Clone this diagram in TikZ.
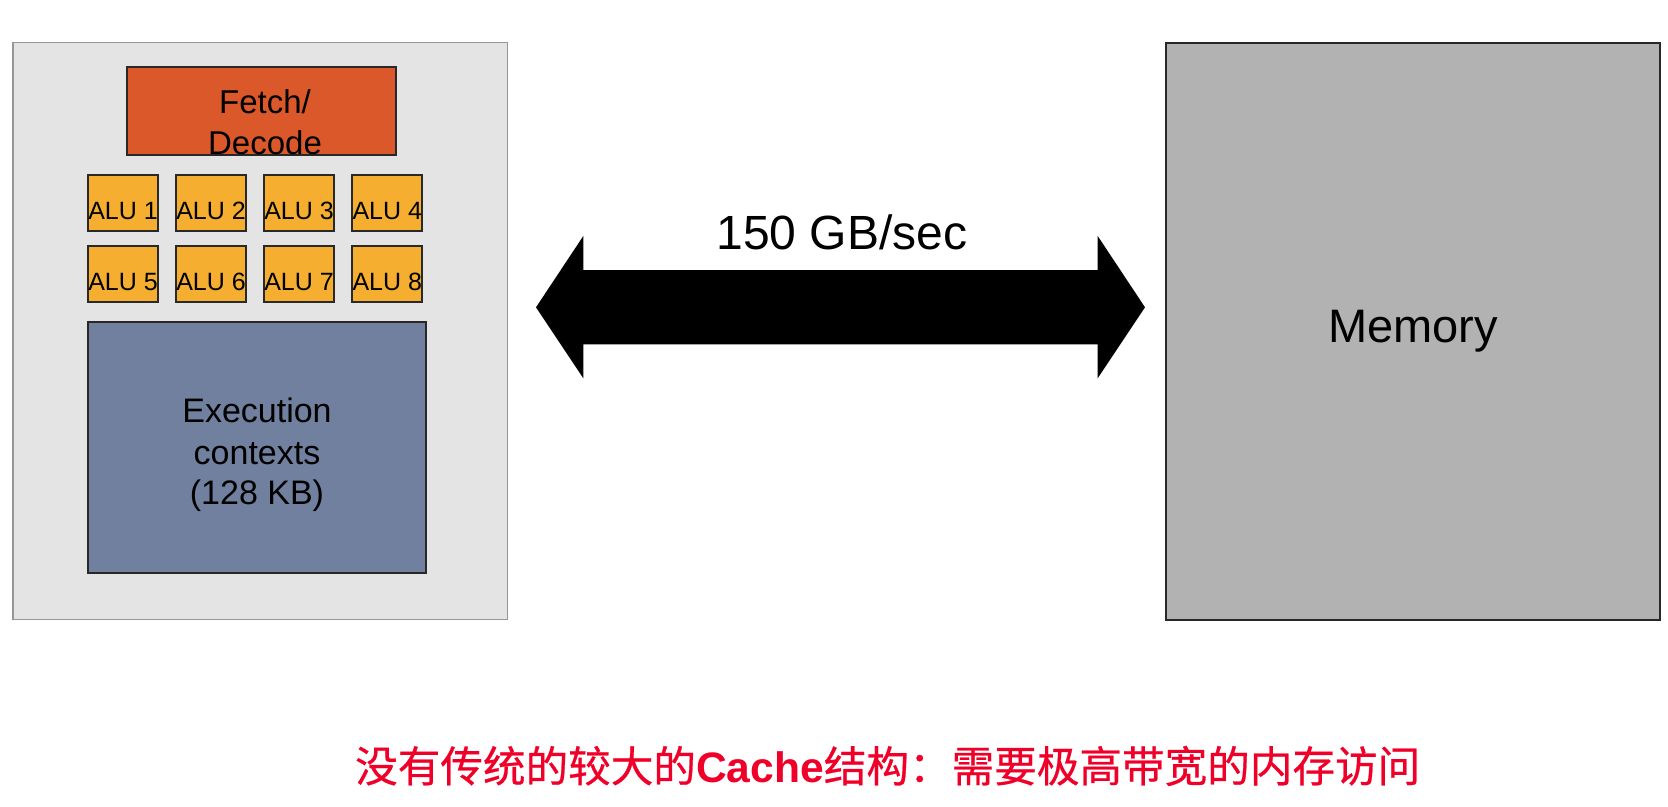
\documentclass[tikz,border=0pt]{standalone}
\usepackage{fontspec}
\setmainfont{Liberation Sans}
\newfontfamily\cjk[FakeBold=0.6]{Noto Sans CJK SC}
\definecolor{chipbg}{RGB}{228,228,228}
\definecolor{chipline}{RGB}{150,150,150}
\definecolor{fetchc}{RGB}{218,88,42}
\definecolor{aluc}{RGB}{245,174,48}
\definecolor{execc}{RGB}{112,128,158}
\definecolor{memc}{RGB}{178,178,178}
\definecolor{boxline}{RGB}{40,40,40}
\definecolor{notec}{RGB}{240,0,40}
\begin{document}
\begin{tikzpicture}[x=1pt,y=-1pt,
  box/.style={draw=boxline,line width=2pt,inner sep=0pt,outer sep=0pt},
  alubox/.style={box,fill=aluc,minimum width=70pt,minimum height=56pt},
  lbl/.style={anchor=base,inner sep=0pt,outer sep=0pt},
  alutxt/.style={lbl,font=\fontsize{25}{25}\selectfont},
  midtxt/.style={lbl,font=\fontsize{34}{34}\selectfont},
  bigtxt/.style={lbl,font=\fontsize{48}{48}\selectfont},
]
\useasboundingbox (0,0) rectangle (1668,806);

% processor core
\node[box,draw=chipline,line width=1.5pt,fill=chipbg,minimum width=494.7pt,minimum height=577pt] (chip) at (260.2,331) {};
\node[box,fill=fetchc,minimum width=269pt,minimum height=87.5pt] (fetch) at (261.5,111.2) {};
\node[midtxt,font=\fontsize{33}{33}\selectfont] (fetchA) at (265,113.3) {Fetch/};
\node[midtxt,font=\fontsize{33}{33}\selectfont] (fetchB) at (265,154) {Decode};

\foreach \i/\x/\y/\b in {1/123/203/219.3, 2/211/203/219.3, 3/299/203/219.3, 4/387.3/203/219.3,
                         5/123/274/290, 6/211/274/290, 7/299/274/290, 8/387.3/274/290}{
  \node[alubox] (alu\i) at (\x,\y) {};
  \node[alutxt] (alut\i) at (\x,\b) {ALU \i};
}

\node[box,fill=execc,minimum width=338pt,minimum height=251pt] (exec) at (257,447.2) {};
\node[midtxt] (execA) at (257,422.3) {Execution};
\node[midtxt] (execB) at (257,464) {contexts};
\node[midtxt] (execC) at (257,504) {(128 KB)};

% memory
\node[box,fill=memc,minimum width=494pt,minimum height=577pt] (mem) at (1413,331) {};
\node[lbl,font=\fontsize{47}{47}\selectfont] (memt) at (1413,342.5) {Memory};

% bandwidth arrow
\coordinate (L) at (536,307.3);
\coordinate (R) at (1145,307.3);
\fill[black] (L) -- (583.3,236) -- (583.3,270) -- (1097.7,270) -- (1097.7,236) -- (R)
  -- (1097.7,378.3) -- (1097.7,344.3) -- (583.3,344.3) -- (583.3,378.3) -- cycle;
\node[bigtxt] (bw) at (842,249) {150 GB/sec};

% note
\node[anchor=base west,inner sep=0pt,text=notec,font=\fontsize{42.6}{42.6}\selectfont] (note) at (355,782)
  {{\cjk 没有传统的较大的}\textbf{Cache}{\cjk 结构：需要极高带宽的内存访问}};
\end{tikzpicture}
\end{document}
